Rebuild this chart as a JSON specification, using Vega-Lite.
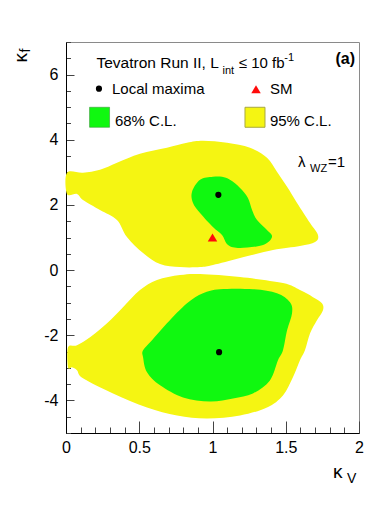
{
  "$schema": "https://vega.github.io/schema/vega-lite/v6.json",
  "width": 293,
  "height": 391,
  "autosize": "none",
  "padding": {"left": 66, "top": 42, "right": 31, "bottom": 96},
  "background": "white",
  "config": {
    "view": {"stroke": "#8a8a8a", "strokeWidth": 1},
    "axis": {
      "grid": false,
      "domainColor": "#000000",
      "domainWidth": 1,
      "tickColor": "#444444",
      "labelFont": "Liberation Sans",
      "labelFontSize": 16,
      "labelColor": "#000000",
      "title": null
    },
    "text": {"font": "Liberation Sans", "color": "#000000"}
  },
  "datasets": {
    "regions": [
      {"shape": "upper95", "level": "95%", "i": 1, "kV": 0.007, "kf": 2.985},
      {"shape": "upper95", "level": "95%", "i": 2, "kV": 0.116, "kf": 2.985},
      {"shape": "upper95", "level": "95%", "i": 3, "kV": 0.232, "kf": 3.077},
      {"shape": "upper95", "level": "95%", "i": 4, "kV": 0.348, "kf": 3.292},
      {"shape": "upper95", "level": "95%", "i": 5, "kV": 0.505, "kf": 3.569},
      {"shape": "upper95", "level": "95%", "i": 6, "kV": 0.689, "kf": 3.754},
      {"shape": "upper95", "level": "95%", "i": 7, "kV": 0.826, "kf": 3.908},
      {"shape": "upper95", "level": "95%", "i": 8, "kV": 0.935, "kf": 3.969},
      {"shape": "upper95", "level": "95%", "i": 9, "kV": 1.099, "kf": 3.908},
      {"shape": "upper95", "level": "95%", "i": 10, "kV": 1.256, "kf": 3.754},
      {"shape": "upper95", "level": "95%", "i": 11, "kV": 1.372, "kf": 3.446},
      {"shape": "upper95", "level": "95%", "i": 12, "kV": 1.44, "kf": 3.015},
      {"shape": "upper95", "level": "95%", "i": 13, "kV": 1.509, "kf": 2.554},
      {"shape": "upper95", "level": "95%", "i": 14, "kV": 1.577, "kf": 2.062},
      {"shape": "upper95", "level": "95%", "i": 15, "kV": 1.666, "kf": 1.446},
      {"shape": "upper95", "level": "95%", "i": 16, "kV": 1.72, "kf": 1.077},
      {"shape": "upper95", "level": "95%", "i": 17, "kV": 1.7, "kf": 0.862},
      {"shape": "upper95", "level": "95%", "i": 18, "kV": 1.597, "kf": 0.738},
      {"shape": "upper95", "level": "95%", "i": 19, "kV": 1.413, "kf": 0.615},
      {"shape": "upper95", "level": "95%", "i": 20, "kV": 1.188, "kf": 0.369},
      {"shape": "upper95", "level": "95%", "i": 21, "kV": 1.003, "kf": 0.154},
      {"shape": "upper95", "level": "95%", "i": 22, "kV": 0.915, "kf": 0.092},
      {"shape": "upper95", "level": "95%", "i": 23, "kV": 0.778, "kf": 0.092},
      {"shape": "upper95", "level": "95%", "i": 24, "kV": 0.642, "kf": 0.185},
      {"shape": "upper95", "level": "95%", "i": 25, "kV": 0.526, "kf": 0.523},
      {"shape": "upper95", "level": "95%", "i": 26, "kV": 0.416, "kf": 1.015},
      {"shape": "upper95", "level": "95%", "i": 27, "kV": 0.348, "kf": 1.538},
      {"shape": "upper95", "level": "95%", "i": 28, "kV": 0.232, "kf": 1.846},
      {"shape": "upper95", "level": "95%", "i": 29, "kV": 0.116, "kf": 2.154},
      {"shape": "upper95", "level": "95%", "i": 30, "kV": 0.075, "kf": 2.338},
      {"shape": "upper95", "level": "95%", "i": 31, "kV": 0.007, "kf": 2.338},

      {"shape": "lower95", "level": "95%", "i": 1, "kV": 0.014, "kf": -2.369},
      {"shape": "lower95", "level": "95%", "i": 2, "kV": 0.075, "kf": -2.308},
      {"shape": "lower95", "level": "95%", "i": 3, "kV": 0.164, "kf": -2.062},
      {"shape": "lower95", "level": "95%", "i": 4, "kV": 0.28, "kf": -1.631},
      {"shape": "lower95", "level": "95%", "i": 5, "kV": 0.389, "kf": -1.138},
      {"shape": "lower95", "level": "95%", "i": 6, "kV": 0.505, "kf": -0.615},
      {"shape": "lower95", "level": "95%", "i": 7, "kV": 0.621, "kf": -0.308},
      {"shape": "lower95", "level": "95%", "i": 8, "kV": 0.778, "kf": -0.154},
      {"shape": "lower95", "level": "95%", "i": 9, "kV": 0.915, "kf": -0.123},
      {"shape": "lower95", "level": "95%", "i": 10, "kV": 1.188, "kf": -0.215},
      {"shape": "lower95", "level": "95%", "i": 11, "kV": 1.481, "kf": -0.4},
      {"shape": "lower95", "level": "95%", "i": 12, "kV": 1.597, "kf": -0.615},
      {"shape": "lower95", "level": "95%", "i": 13, "kV": 1.686, "kf": -0.831},
      {"shape": "lower95", "level": "95%", "i": 14, "kV": 1.747, "kf": -1.015},
      {"shape": "lower95", "level": "95%", "i": 15, "kV": 1.754, "kf": -1.231},
      {"shape": "lower95", "level": "95%", "i": 16, "kV": 1.713, "kf": -1.538},
      {"shape": "lower95", "level": "95%", "i": 17, "kV": 1.666, "kf": -1.938},
      {"shape": "lower95", "level": "95%", "i": 18, "kV": 1.631, "kf": -2.462},
      {"shape": "lower95", "level": "95%", "i": 19, "kV": 1.597, "kf": -2.769},
      {"shape": "lower95", "level": "95%", "i": 20, "kV": 1.549, "kf": -3.292},
      {"shape": "lower95", "level": "95%", "i": 21, "kV": 1.481, "kf": -3.846},
      {"shape": "lower95", "level": "95%", "i": 22, "kV": 1.372, "kf": -4.215},
      {"shape": "lower95", "level": "95%", "i": 23, "kV": 1.188, "kf": -4.462},
      {"shape": "lower95", "level": "95%", "i": 24, "kV": 0.962, "kf": -4.554},
      {"shape": "lower95", "level": "95%", "i": 25, "kV": 0.758, "kf": -4.462},
      {"shape": "lower95", "level": "95%", "i": 26, "kV": 0.553, "kf": -4.215},
      {"shape": "lower95", "level": "95%", "i": 27, "kV": 0.321, "kf": -3.785},
      {"shape": "lower95", "level": "95%", "i": 28, "kV": 0.116, "kf": -3.323},
      {"shape": "lower95", "level": "95%", "i": 29, "kV": 0.075, "kf": -3.077},
      {"shape": "lower95", "level": "95%", "i": 30, "kV": 0.041, "kf": -2.985},
      {"shape": "lower95", "level": "95%", "i": 31, "kV": 0.014, "kf": -2.985},

      {"shape": "upper68", "level": "68%", "i": 1, "kV": 1.003, "kf": 2.862},
      {"shape": "upper68", "level": "68%", "i": 2, "kV": 0.915, "kf": 2.769},
      {"shape": "upper68", "level": "68%", "i": 3, "kV": 0.86, "kf": 2.4},
      {"shape": "upper68", "level": "68%", "i": 4, "kV": 0.867, "kf": 2.062},
      {"shape": "upper68", "level": "68%", "i": 5, "kV": 0.915, "kf": 1.754},
      {"shape": "upper68", "level": "68%", "i": 6, "kV": 1.003, "kf": 1.323},
      {"shape": "upper68", "level": "68%", "i": 7, "kV": 1.065, "kf": 1.077},
      {"shape": "upper68", "level": "68%", "i": 8, "kV": 1.106, "kf": 0.769},
      {"shape": "upper68", "level": "68%", "i": 9, "kV": 1.188, "kf": 0.677},
      {"shape": "upper68", "level": "68%", "i": 10, "kV": 1.345, "kf": 0.769},
      {"shape": "upper68", "level": "68%", "i": 11, "kV": 1.406, "kf": 1.015},
      {"shape": "upper68", "level": "68%", "i": 12, "kV": 1.372, "kf": 1.231},
      {"shape": "upper68", "level": "68%", "i": 13, "kV": 1.304, "kf": 1.538},
      {"shape": "upper68", "level": "68%", "i": 14, "kV": 1.27, "kf": 1.846},
      {"shape": "upper68", "level": "68%", "i": 15, "kV": 1.242, "kf": 2.215},
      {"shape": "upper68", "level": "68%", "i": 16, "kV": 1.188, "kf": 2.523},
      {"shape": "upper68", "level": "68%", "i": 17, "kV": 1.119, "kf": 2.769},
      {"shape": "upper68", "level": "68%", "i": 18, "kV": 1.065, "kf": 2.862},

      {"shape": "lower68", "level": "68%", "i": 1, "kV": 0.935, "kf": -0.708},
      {"shape": "lower68", "level": "68%", "i": 2, "kV": 1.051, "kf": -0.585},
      {"shape": "lower68", "level": "68%", "i": 3, "kV": 1.276, "kf": -0.585},
      {"shape": "lower68", "level": "68%", "i": 4, "kV": 1.44, "kf": -0.708},
      {"shape": "lower68", "level": "68%", "i": 5, "kV": 1.529, "kf": -0.985},
      {"shape": "lower68", "level": "68%", "i": 6, "kV": 1.543, "kf": -1.323},
      {"shape": "lower68", "level": "68%", "i": 7, "kV": 1.509, "kf": -1.846},
      {"shape": "lower68", "level": "68%", "i": 8, "kV": 1.481, "kf": -2.462},
      {"shape": "lower68", "level": "68%", "i": 9, "kV": 1.447, "kf": -2.769},
      {"shape": "lower68", "level": "68%", "i": 10, "kV": 1.392, "kf": -3.385},
      {"shape": "lower68", "level": "68%", "i": 11, "kV": 1.276, "kf": -3.785},
      {"shape": "lower68", "level": "68%", "i": 12, "kV": 1.14, "kf": -3.938},
      {"shape": "lower68", "level": "68%", "i": 13, "kV": 0.983, "kf": -4.031},
      {"shape": "lower68", "level": "68%", "i": 14, "kV": 0.799, "kf": -3.908},
      {"shape": "lower68", "level": "68%", "i": 15, "kV": 0.642, "kf": -3.538},
      {"shape": "lower68", "level": "68%", "i": 16, "kV": 0.553, "kf": -3.138},
      {"shape": "lower68", "level": "68%", "i": 17, "kV": 0.526, "kf": -2.677},
      {"shape": "lower68", "level": "68%", "i": 18, "kV": 0.526, "kf": -2.462},
      {"shape": "lower68", "level": "68%", "i": 19, "kV": 0.587, "kf": -2.154},
      {"shape": "lower68", "level": "68%", "i": 20, "kV": 0.689, "kf": -1.631},
      {"shape": "lower68", "level": "68%", "i": 21, "kV": 0.826, "kf": -1.015}
    ],
    "markers": [
      {"kind": "Local maxima", "kV": 1.04, "kf": 2.31},
      {"kind": "Local maxima", "kV": 1.045, "kf": -2.52},
      {"kind": "SM", "kV": 1.0, "kf": 1.0},
      {"kind": "Local maxima", "kV": 0.225, "kf": 5.569},
      {"kind": "SM", "kV": 1.297, "kf": 5.55},
      {"kind": "68% C.L.", "kV": 0.229, "kf": 4.69},
      {"kind": "95% C.L.", "kV": 1.29, "kf": 4.69}
    ],
    "texts": [
      {"role": "head", "text": "Tevatron Run II, L", "kV": 0.208, "kf": 6.215},
      {"role": "sub", "text": "int", "kV": 1.068, "kf": 6.03},
      {"role": "main", "text": "≤ 10 fb", "kV": 1.18, "kf": 6.215},
      {"role": "sub", "text": "-1", "kV": 1.49, "kf": 6.42},
      {"role": "bold", "text": "(a)", "kV": 1.973, "kf": 6.34},
      {"role": "main", "text": "Local maxima", "kV": 0.314, "kf": 5.415},
      {"role": "main", "text": "SM", "kV": 1.392, "kf": 5.415},
      {"role": "main", "text": "68% C.L.", "kV": 0.334, "kf": 4.43},
      {"role": "main", "text": "95% C.L.", "kV": 1.392, "kf": 4.43},
      {"role": "main", "text": "λ", "kV": 1.584, "kf": 3.17},
      {"role": "sub", "text": "WZ", "kV": 1.666, "kf": 3.015},
      {"role": "main", "text": "=1", "kV": 1.788, "kf": 3.17},
      {"role": "title", "text": "κ", "kV": 1.823, "kf": -6.37},
      {"role": "titlesub", "text": "V", "kV": 1.918, "kf": -6.52},
      {"role": "ytitle", "text": "κ", "kV": -0.266, "kf": 6.37},
      {"role": "ytitlesub", "text": "f", "kV": -0.246, "kf": 6.68}
    ]
  },
  "encoding": {
    "x": {
      "field": "kV", "type": "quantitative",
      "scale": {"domain": [0, 2], "nice": false, "zero": false},
      "axis": {
        "values": [0,0.1,0.2,0.3,0.4,0.5,0.6,0.7,0.8,0.9,1,1.1,1.2,1.3,1.4,1.5,1.6,1.7,1.8,1.9,2],
        "labelExpr": "abs(datum.value*2-round(datum.value*2))<0.001 ? '' + datum.value : ''",
        "tickSize": {"condition": {"test": "abs(datum.value*2-round(datum.value*2))<0.001", "value": -12}, "value": -6},
        "labelPadding": 18,
        "labelFlush": false,
        "labelOverlap": false
      }
    },
    "y": {
      "field": "kf", "type": "quantitative",
      "scale": {"domain": [-5, 7], "nice": false, "zero": false},
      "axis": {
        "values": [-5,-4.5,-4,-3.5,-3,-2.5,-2,-1.5,-1,-0.5,0,0.5,1,1.5,2,2.5,3,3.5,4,4.5,5,5.5,6,6.5,7],
        "labelExpr": "abs(datum.value/2-round(datum.value/2))<0.001 ? '' + datum.value : ''",
        "tickSize": {"condition": {"test": "abs(datum.value/2-round(datum.value/2))<0.001", "value": -8}, "value": -4.5},
        "labelPadding": 16,
        "labelFlush": false,
        "labelOverlap": false
      }
    }
  },
  "layer": [
    {
      "data": {"name": "regions"},
      "transform": [{"filter": "datum.level === '95%'"}],
      "mark": {"type": "line", "fill": "#f5f512", "stroke": null, "strokeWidth": 0, "interpolate": "cardinal-closed"},
      "encoding": {"detail": {"field": "shape"}, "order": {"field": "i", "type": "quantitative"}}
    },
    {
      "data": {"name": "regions"},
      "transform": [{"filter": "datum.level === '68%'"}],
      "mark": {"type": "line", "fill": "#10f810", "stroke": null, "strokeWidth": 0, "interpolate": "cardinal-closed"},
      "encoding": {"detail": {"field": "shape"}, "order": {"field": "i", "type": "quantitative"}}
    },
    {
      "data": {"name": "markers"},
      "transform": [{"filter": "datum.kind === 'Local maxima'"}],
      "mark": {"type": "point", "shape": "circle", "filled": true, "color": "#000000", "size": 38, "opacity": 1}
    },
    {
      "data": {"name": "markers"},
      "transform": [{"filter": "datum.kind === 'SM'"}],
      "mark": {"type": "point", "shape": "triangle-up", "filled": true, "color": "#ff0a0a", "size": 90, "opacity": 1}
    },
    {
      "data": {"name": "markers"},
      "transform": [{"filter": "datum.kind === '68% C.L.'"}],
      "mark": {"type": "point", "shape": "square", "filled": true, "fill": "#10f810", "stroke": "#3a9a3a", "strokeWidth": 0.6, "size": 400, "opacity": 1}
    },
    {
      "data": {"name": "markers"},
      "transform": [{"filter": "datum.kind === '95% C.L.'"}],
      "mark": {"type": "point", "shape": "square", "filled": true, "fill": "#f5f512", "stroke": "#a8a840", "strokeWidth": 1, "size": 400, "opacity": 1}
    },
    {
      "data": {"name": "texts"},
      "transform": [{"filter": "datum.role === 'head'"}],
      "mark": {"type": "text", "align": "left", "baseline": "alphabetic", "fontSize": 15.5},
      "encoding": {"text": {"field": "text"}}
    },
    {
      "data": {"name": "texts"},
      "transform": [{"filter": "datum.role === 'main'"}],
      "mark": {"type": "text", "align": "left", "baseline": "alphabetic", "fontSize": 15},
      "encoding": {"text": {"field": "text"}}
    },
    {
      "data": {"name": "texts"},
      "transform": [{"filter": "datum.role === 'sub'"}],
      "mark": {"type": "text", "align": "left", "baseline": "alphabetic", "fontSize": 11},
      "encoding": {"text": {"field": "text"}}
    },
    {
      "data": {"name": "texts"},
      "transform": [{"filter": "datum.role === 'bold'"}],
      "mark": {"type": "text", "align": "right", "baseline": "alphabetic", "fontSize": 16, "fontWeight": "bold"},
      "encoding": {"text": {"field": "text"}}
    },
    {
      "data": {"name": "texts"},
      "transform": [{"filter": "datum.role === 'title'"}],
      "mark": {"type": "text", "align": "left", "baseline": "alphabetic", "fontSize": 19},
      "encoding": {"text": {"field": "text"}}
    },
    {
      "data": {"name": "texts"},
      "transform": [{"filter": "datum.role === 'titlesub'"}],
      "mark": {"type": "text", "align": "left", "baseline": "alphabetic", "fontSize": 14},
      "encoding": {"text": {"field": "text"}}
    },
    {
      "data": {"name": "texts"},
      "transform": [{"filter": "datum.role === 'ytitle'"}],
      "mark": {"type": "text", "align": "left", "baseline": "alphabetic", "fontSize": 19, "angle": 270},
      "encoding": {"text": {"field": "text"}}
    },
    {
      "data": {"name": "texts"},
      "transform": [{"filter": "datum.role === 'ytitlesub'"}],
      "mark": {"type": "text", "align": "left", "baseline": "alphabetic", "fontSize": 14, "angle": 270},
      "encoding": {"text": {"field": "text"}}
    }
  ]
}
